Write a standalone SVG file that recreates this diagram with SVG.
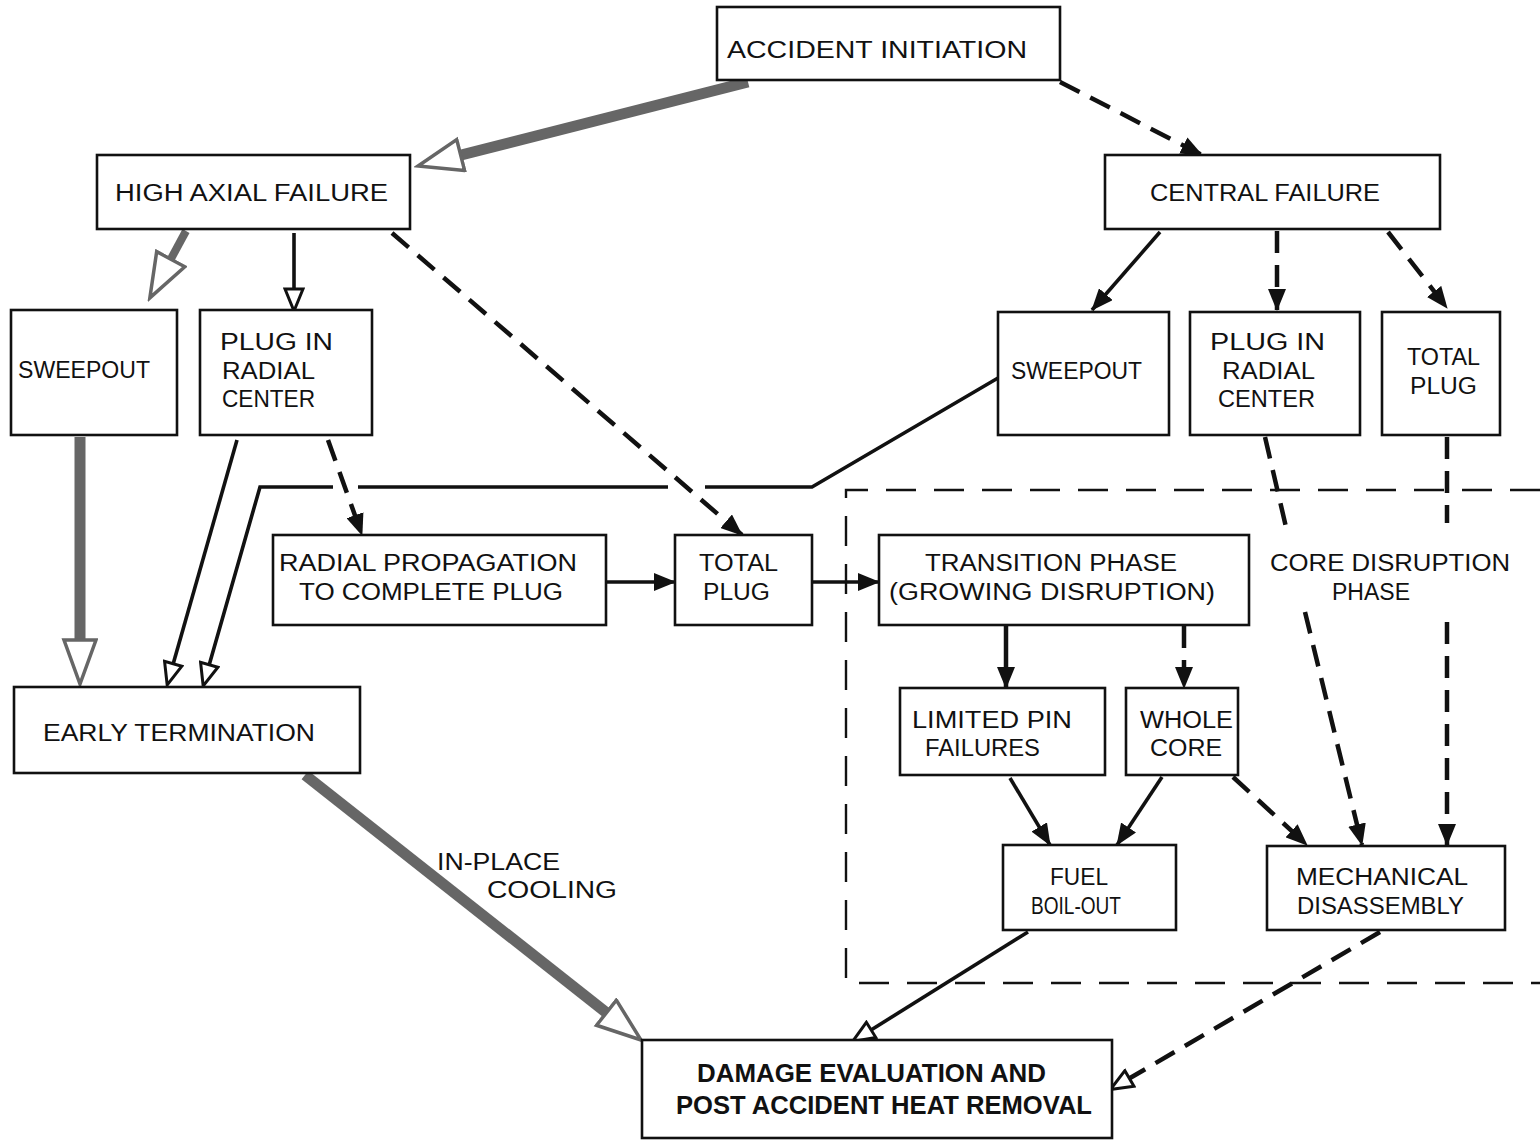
<svg xmlns="http://www.w3.org/2000/svg" width="1540" height="1141" viewBox="0 0 1540 1141">
<style>
.box{fill:#fff;stroke:#111;stroke-width:2.6}
.t{font-family:"Liberation Sans",Arial,sans-serif;font-size:23px;fill:#111}
.tb{font-family:"Liberation Sans",Arial,sans-serif;font-size:26px;font-weight:bold;fill:#111}
.s{fill:none;stroke:#111;stroke-width:3.6}
.d{fill:none;stroke:#111;stroke-width:4.5;stroke-dasharray:22 12}
.g{fill:none;stroke:#666;stroke-width:11}
.bd{fill:none;stroke:#111;stroke-width:2.4;stroke-dasharray:30 18}
</style>
<defs>
<marker id="ah" markerWidth="24" markerHeight="18" refX="21" refY="9" orient="auto" markerUnits="userSpaceOnUse"><path d="M0,0 L22,9 L0,18 z" fill="#111"/></marker>
<marker id="aho" markerWidth="26" markerHeight="22" refX="21" refY="11" orient="auto" markerUnits="userSpaceOnUse"><path d="M2,2 L24,11 L2,20 z" fill="#fff" stroke="#111" stroke-width="3"/></marker>
<marker id="ahg" markerWidth="50" markerHeight="38" refX="32" refY="18" orient="auto" markerUnits="userSpaceOnUse"><path d="M2,2 L46,18 L2,34 z" fill="#fff" stroke="#666" stroke-width="3.5"/></marker>
</defs>

<g id="connectors">
<line class="g" x1="748" y1="82" x2="431.6" y2="162.5" marker-end="url(#ahg)"/>
<line class="g" x1="186" y1="231" x2="156.5" y2="285.6" style="stroke-width:8" marker-end="url(#ahg)"/>
<line class="g" x1="80" y1="437" x2="80" y2="670" marker-end="url(#ahg)"/>
<line class="g" x1="305" y1="775" x2="630" y2="1031.3" marker-end="url(#ahg)"/>
<line class="d" x1="1060" y1="82" x2="1202" y2="155" marker-end="url(#ah)"/>
<line class="d" x1="392" y1="233" x2="742" y2="535" marker-end="url(#ah)"/>
<line class="d" x1="328" y1="440" x2="362" y2="535" marker-end="url(#ah)"/>
<line class="d" x1="1277" y1="231" x2="1277" y2="310" marker-end="url(#ah)"/>
<line class="d" x1="1388" y1="232" x2="1447" y2="308" marker-end="url(#ah)"/>
<line class="d" x1="1184" y1="626" x2="1184" y2="688" marker-end="url(#ah)"/>
<line class="d" x1="1233" y1="777" x2="1307" y2="845" marker-end="url(#ah)"/>
<line class="d" x1="1265" y1="437" x2="1286" y2="527"/>
<line class="d" x1="1305" y1="612" x2="1362" y2="845" marker-end="url(#ah)"/>
<line class="d" x1="1447" y1="437" x2="1447" y2="523"/>
<line class="d" x1="1447" y1="622" x2="1447" y2="845" marker-end="url(#ah)"/>
<line class="d" x1="1380" y1="932" x2="1113" y2="1088" marker-end="url(#aho)"/>
<line class="s" x1="294" y1="233" x2="294" y2="308" marker-end="url(#aho)"/>
<line class="s" x1="1160" y1="232" x2="1092" y2="310" marker-end="url(#ah)"/>
<line class="s" x1="237" y1="440" x2="168" y2="682" marker-end="url(#aho)"/>
<polyline class="s" points="998,378 812,487 705,487"/>
<line class="s" x1="668" y1="487" x2="358" y2="487"/>
<polyline class="s" points="333,487 260,487 204,683" marker-end="url(#aho)"/>
<line class="s" x1="606" y1="582" x2="675" y2="582" marker-end="url(#ah)"/>
<line class="s" x1="812" y1="582" x2="879" y2="582" marker-end="url(#ah)"/>
<line class="s" x1="1006" y1="626" x2="1006" y2="688" style="stroke-width:4.5" marker-end="url(#ah)"/>
<line class="s" x1="1010" y1="778" x2="1050" y2="845" marker-end="url(#ah)"/>
<line class="s" x1="1162" y1="777" x2="1117" y2="845" marker-end="url(#ah)"/>
<line class="s" x1="1028" y1="932" x2="855" y2="1040" marker-end="url(#aho)"/>
<text class="t" x="437" y="870" textLength="123" lengthAdjust="spacingAndGlyphs">IN-PLACE</text>
<text class="t" x="487" y="898" textLength="130" lengthAdjust="spacingAndGlyphs">COOLING</text>
</g>

<g id="core-disruption-phase">
<polyline class="bd" points="1540,490 846,490 846,983 1540,983"/>
<text class="t" x="1270" y="571" textLength="240" lengthAdjust="spacingAndGlyphs">CORE DISRUPTION</text>
<text class="t" x="1332" y="600" textLength="78" lengthAdjust="spacingAndGlyphs">PHASE</text>
</g>

<g id="accident-initiation">
<rect class="box" x="717" y="7" width="343" height="73"/>
<text class="t" x="727" y="58" textLength="300" lengthAdjust="spacingAndGlyphs">ACCIDENT INITIATION</text>
</g>
<g id="high-axial-failure">
<rect class="box" x="97" y="155" width="313" height="74"/>
<text class="t" x="115" y="201" textLength="273" lengthAdjust="spacingAndGlyphs">HIGH AXIAL FAILURE</text>
</g>
<g id="central-failure">
<rect class="box" x="1105" y="155" width="335" height="74"/>
<text class="t" x="1150" y="201" textLength="230" lengthAdjust="spacingAndGlyphs">CENTRAL FAILURE</text>
</g>
<g id="sweepout-left">
<rect class="box" x="11" y="310" width="166" height="125"/>
<text class="t" x="18" y="378" textLength="132" lengthAdjust="spacingAndGlyphs">SWEEPOUT</text>
</g>
<g id="plug-radial-left">
<rect class="box" x="200" y="310" width="172" height="125"/>
<text class="t" x="220" y="350" textLength="113" lengthAdjust="spacingAndGlyphs">PLUG IN</text>
<text class="t" x="222" y="379" textLength="93" lengthAdjust="spacingAndGlyphs">RADIAL</text>
<text class="t" x="222" y="407" textLength="93" lengthAdjust="spacingAndGlyphs">CENTER</text>
</g>
<g id="sweepout-right">
<rect class="box" x="998" y="312" width="171" height="123"/>
<text class="t" x="1011" y="379" textLength="131" lengthAdjust="spacingAndGlyphs">SWEEPOUT</text>
</g>
<g id="plug-radial-right">
<rect class="box" x="1190" y="312" width="170" height="123"/>
<text class="t" x="1210" y="350" textLength="115" lengthAdjust="spacingAndGlyphs">PLUG IN</text>
<text class="t" x="1222" y="379" textLength="93" lengthAdjust="spacingAndGlyphs">RADIAL</text>
<text class="t" x="1218" y="407" textLength="97" lengthAdjust="spacingAndGlyphs">CENTER</text>
</g>
<g id="total-plug-right">
<rect class="box" x="1382" y="312" width="118" height="123"/>
<text class="t" x="1407" y="365" textLength="73" lengthAdjust="spacingAndGlyphs">TOTAL</text>
<text class="t" x="1410" y="394" textLength="67" lengthAdjust="spacingAndGlyphs">PLUG</text>
</g>
<g id="radial-propagation">
<rect class="box" x="273" y="535" width="333" height="90"/>
<text class="t" x="279" y="571" textLength="298" lengthAdjust="spacingAndGlyphs">RADIAL PROPAGATION</text>
<text class="t" x="299" y="600" textLength="264" lengthAdjust="spacingAndGlyphs">TO COMPLETE PLUG</text>
</g>
<g id="total-plug-middle">
<rect class="box" x="675" y="535" width="137" height="90"/>
<text class="t" x="699" y="571" textLength="79" lengthAdjust="spacingAndGlyphs">TOTAL</text>
<text class="t" x="703" y="600" textLength="67" lengthAdjust="spacingAndGlyphs">PLUG</text>
</g>
<g id="transition-phase">
<rect class="box" x="879" y="535" width="370" height="90"/>
<text class="t" x="925" y="571" textLength="252" lengthAdjust="spacingAndGlyphs">TRANSITION PHASE</text>
<text class="t" x="889" y="600" textLength="326" lengthAdjust="spacingAndGlyphs">(GROWING DISRUPTION)</text>
</g>
<g id="limited-pin-failures">
<rect class="box" x="900" y="688" width="205" height="87"/>
<text class="t" x="912" y="728" textLength="160" lengthAdjust="spacingAndGlyphs">LIMITED PIN</text>
<text class="t" x="925" y="756" textLength="115" lengthAdjust="spacingAndGlyphs">FAILURES</text>
</g>
<g id="whole-core">
<rect class="box" x="1126" y="688" width="112" height="87"/>
<text class="t" x="1140" y="728" textLength="93" lengthAdjust="spacingAndGlyphs">WHOLE</text>
<text class="t" x="1150" y="756" textLength="72" lengthAdjust="spacingAndGlyphs">CORE</text>
</g>
<g id="fuel-boil-out">
<rect class="box" x="1003" y="845" width="173" height="85"/>
<text class="t" x="1050" y="885" textLength="58" lengthAdjust="spacingAndGlyphs">FUEL</text>
<text class="t" x="1031" y="914" textLength="90" lengthAdjust="spacingAndGlyphs">BOIL-OUT</text>
</g>
<g id="mechanical-disassembly">
<rect class="box" x="1267" y="846" width="238" height="84"/>
<text class="t" x="1296" y="885" textLength="172" lengthAdjust="spacingAndGlyphs">MECHANICAL</text>
<text class="t" x="1297" y="914" textLength="167" lengthAdjust="spacingAndGlyphs">DISASSEMBLY</text>
</g>
<g id="early-termination">
<rect class="box" x="14" y="687" width="346" height="86"/>
<text class="t" x="43" y="741" textLength="272" lengthAdjust="spacingAndGlyphs">EARLY TERMINATION</text>
</g>
<g id="damage-evaluation">
<rect class="box" x="642" y="1040" width="470" height="98"/>
<text class="tb" x="697" y="1082" textLength="349" lengthAdjust="spacingAndGlyphs">DAMAGE EVALUATION AND</text>
<text class="tb" x="676" y="1114" textLength="416" lengthAdjust="spacingAndGlyphs">POST ACCIDENT HEAT REMOVAL</text>
</g>
</svg>
